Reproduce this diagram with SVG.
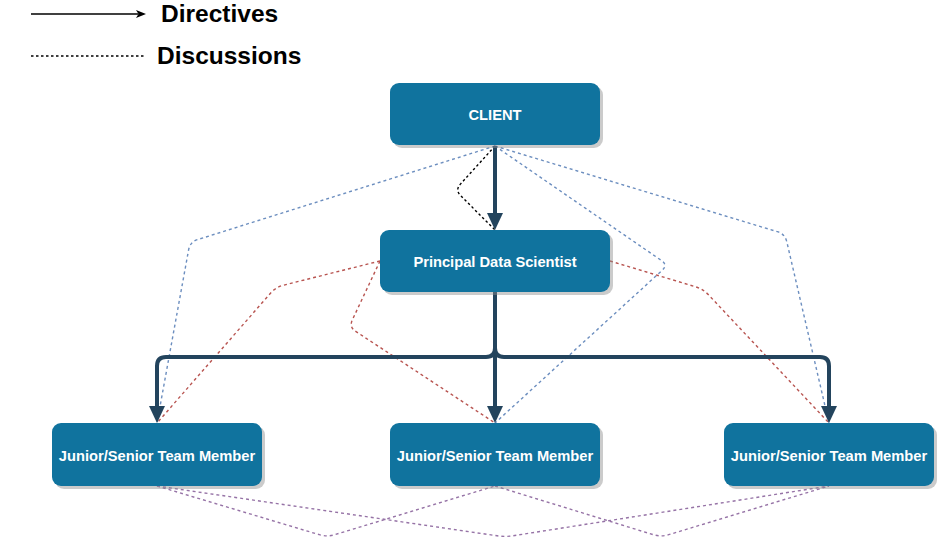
<svg xmlns="http://www.w3.org/2000/svg" width="944" height="545" viewBox="0 0 944 545">
<style>
.node{fill:#10739E;}
.shadow{fill:#8C8C8C;opacity:0.45;}
.lbl{font-family:"Liberation Sans",Arial,Helvetica,sans-serif;font-weight:bold;font-size:14.7px;fill:#FFFFFF;text-anchor:middle;}
.legend{font-family:"Liberation Sans",Arial,Helvetica,sans-serif;font-weight:bold;font-size:24.5px;fill:#000000;}
.dir{fill:none;stroke:#23445D;stroke-width:4;stroke-linejoin:round;}
.blue{fill:none;stroke:#6C8EBF;stroke-width:1.4;stroke-dasharray:3 3;}
.red{fill:none;stroke:#B85450;stroke-width:1.4;stroke-dasharray:3 3;}
.purple{fill:none;stroke:#9673A6;stroke-width:1.4;stroke-dasharray:3 3;}
.black{fill:none;stroke:#000000;stroke-width:1.4;stroke-dasharray:2.5 2.5;}
</style>
<defs>
<marker id="bigArrow" markerUnits="userSpaceOnUse" markerWidth="17" markerHeight="16" viewBox="0 0 17 16" refX="7" refY="8" orient="auto">
<path d="M0,0 L17,8 L0,16 Z" fill="#23445D"/>
</marker>
<marker id="smallArrow" markerUnits="userSpaceOnUse" markerWidth="10" markerHeight="8" viewBox="0 0 10 8" refX="2.5" refY="4" orient="auto">
<path d="M0,0 L10,4 L0,8 L2.5,4 Z" fill="#000000"/>
</marker>
</defs>
<rect width="944" height="545" fill="#FFFFFF"/>

<g id="legend">
<line x1="31" y1="14" x2="138.5" y2="14" stroke="#000000" stroke-width="1.5" marker-end="url(#smallArrow)"/>
<text class="legend" x="161" y="22">Directives</text>
<line x1="31" y1="56" x2="146" y2="56" class="black"/>
<text class="legend" x="157" y="64">Discussions</text>
</g>

<g id="connectors">
<!-- discussions: blue from client -->
<path class="blue" d="M495,146 L197.6,239.6 Q190,242 188.6,249.9 L157,423"/>
<path class="blue" d="M495,146 L661.4,260.5 Q668,265 662.1,270.4 L495,423"/>
<path class="blue" d="M495,146 L777.3,231.7 Q785,234 786.8,241.8 L829,423"/>
<!-- discussion: black client to principal -->
<path class="black" d="M495,146 L460.4,184.1 Q455,190 460.7,195.7 L495,230"/>
<!-- discussions: red from principal -->
<path class="red" d="M380,261 L283.8,285.1 Q276,287 270.7,293 L157,423"/>
<path class="red" d="M380,261 L352.4,319.8 Q349,327 355.7,331.4 L495,423"/>
<path class="red" d="M610,261 L695.3,286.7 Q703,289 708.5,294.8 L829,423"/>
<!-- discussions: purple among team members -->
<path class="purple" d="M157,486 L319.3,534.7 Q327,537 334.7,534.7 L495,486"/>
<path class="purple" d="M495,486 L653.4,534.7 Q661,537 668.7,534.7 L829,486"/>
<path class="purple" d="M157,486 L497.1,535.8 Q505,537 512.9,535.8 L829,486"/>
<!-- directives -->
<path class="dir" d="M495,146 L495,220" marker-end="url(#bigArrow)"/>
<path class="dir" d="M495,292 L495,348 Q495,357 486,357 L166,357 Q157,357 157,366 L157,413" marker-end="url(#bigArrow)"/>
<path class="dir" d="M495,292 L495,413" marker-end="url(#bigArrow)"/>
<path class="dir" d="M495,292 L495,348 Q495,357 504,357 L820,357 Q829,357 829,366 L829,413" marker-end="url(#bigArrow)"/>
</g>

<g id="client">
<rect class="shadow" x="393" y="86" width="210" height="62" rx="9"/>
<rect class="node" x="390" y="83" width="210" height="62" rx="9"/>
<text class="lbl" x="495" y="120">CLIENT</text>
</g>

<g id="principal">
<rect class="shadow" x="383" y="233" width="230" height="62" rx="9"/>
<rect class="node" x="380" y="230" width="230" height="62" rx="9"/>
<text class="lbl" x="495" y="267">Principal Data Scientist</text>
</g>

<g id="member-left">
<rect class="shadow" x="55" y="426" width="210" height="63" rx="9"/>
<rect class="node" x="52" y="423" width="210" height="63" rx="9"/>
<text class="lbl" x="157" y="461">Junior/Senior Team Member</text>
</g>

<g id="member-middle">
<rect class="shadow" x="393" y="426" width="210" height="63" rx="9"/>
<rect class="node" x="390" y="423" width="210" height="63" rx="9"/>
<text class="lbl" x="495" y="461">Junior/Senior Team Member</text>
</g>

<g id="member-right">
<rect class="shadow" x="727" y="426" width="210" height="63" rx="9"/>
<rect class="node" x="724" y="423" width="210" height="63" rx="9"/>
<text class="lbl" x="829" y="461">Junior/Senior Team Member</text>
</g>
</svg>
